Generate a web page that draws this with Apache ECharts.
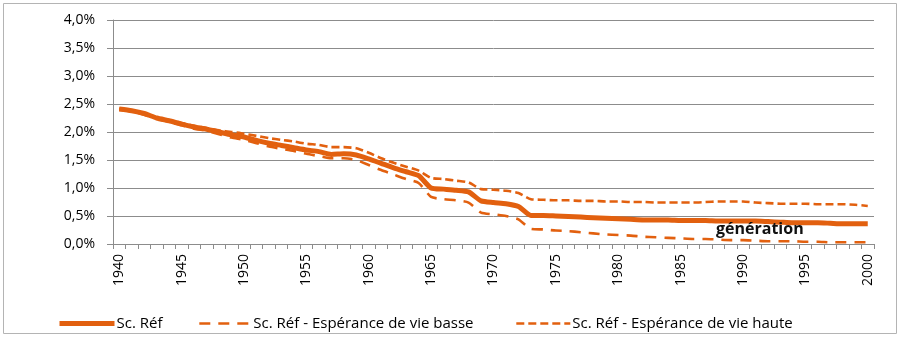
<!DOCTYPE html>
<html>
<head>
<meta charset="utf-8">
<script src="https://cdn.jsdelivr.net/npm/echarts@6/dist/echarts.min.js"></script>
<style>html,body{margin:0;padding:0;background:#fff}#c{width:900px;height:338px}</style>
</head>
<body>
<div id="c"></div>
<script>
var years = [];
for (var y = 1940; y <= 2000; y++) years.push(String(y));

var scRef = [2.41,2.38,2.33,2.25,2.20,2.14,2.09,2.05,2.00,1.95,
             1.91,1.85,1.80,1.76,1.72,1.68,1.65,1.60,1.61,1.59,
             1.52,1.44,1.36,1.29,1.22,1.00,0.98,0.96,0.93,0.77,
             0.74,0.72,0.67,0.51,0.51,0.50,0.49,0.48,0.47,0.46,
             0.45,0.44,0.43,0.43,0.43,0.42,0.42,0.42,0.41,0.41,
             0.41,0.41,0.40,0.39,0.38,0.38,0.38,0.37,0.36,0.36,0.36];

var scBasse = [2.40,2.37,2.31,2.24,2.18,2.12,2.06,2.02,1.96,1.90,
               1.86,1.80,1.74,1.70,1.66,1.61,1.57,1.53,1.53,1.50,
               1.41,1.32,1.24,1.16,1.09,0.84,0.80,0.78,0.74,0.56,
               0.53,0.50,0.44,0.27,0.26,0.24,0.23,0.21,0.19,0.17,
               0.16,0.15,0.13,0.12,0.11,0.10,0.09,0.09,0.08,0.07,
               0.07,0.06,0.05,0.05,0.05,0.04,0.04,0.03,0.03,0.03,0.03];

var scHaute = [2.42,2.39,2.33,2.26,2.21,2.16,2.11,2.07,2.03,2.00,
               1.97,1.93,1.89,1.86,1.83,1.79,1.77,1.73,1.73,1.71,
               1.63,1.53,1.45,1.38,1.31,1.18,1.16,1.13,1.10,0.98,
               0.97,0.95,0.91,0.80,0.79,0.78,0.78,0.77,0.77,0.76,
               0.76,0.75,0.75,0.74,0.74,0.74,0.74,0.75,0.76,0.76,
               0.76,0.74,0.73,0.72,0.72,0.72,0.71,0.71,0.71,0.70,0.68];

var seriesNames = ['Sc. Réf', 'Sc. Réf - Espérance de vie basse', 'Sc. Réf - Espérance de vie haute'];
var yTicks = [0, 0.5, 1, 1.5, 2, 2.5, 3, 3.5, 4];
var annotation = 'génération';

var col = '#E2600F';
var font = '"Open Sans", Lato, sans-serif';
function mkLegend(name, left, w) {
  return {
    left: left, top: 311, itemWidth: w, itemHeight: 14, itemGap: 0,
    itemStyle: {opacity: 0},
    lineStyle: {width: 'inherit'},
    textStyle: {fontSize: 15, color: '#000', fontFamily: font, padding: [0, 0, 0, -3]},
    data: [name]
  };
}
var chart = echarts.init(document.getElementById('c'), null, {renderer: 'canvas'});
chart.setOption({
  animation: false,
  textStyle: {fontFamily: font},
  grid: {left: 113, right: 26, top: 20, bottom: 94, containLabel: false},
  xAxis: {
    type: 'category',
    data: years,
    boundaryGap: true,
    axisLine: {lineStyle: {color: '#8c8c8c', width: 1}},
    axisTick: {show: true, interval: 0, length: 5, lineStyle: {color: '#8c8c8c'}},
    axisLabel: {interval: 4, rotate: 90, margin: 10, fontSize: 14, color: '#000', fontFamily: font},
    splitLine: {show: false}
  },
  yAxis: {
    type: 'value',
    min: yTicks[0], max: yTicks[yTicks.length - 1], interval: 0.5,
    axisLine: {show: true, lineStyle: {color: '#8c8c8c'}},
    axisTick: {show: true, length: 6, lineStyle: {color: '#8c8c8c'}},
    axisLabel: {margin: 18, fontSize: 14, color: '#000', fontFamily: font,
      formatter: function (v) { return v.toFixed(1).replace('.', ',') + '%'; }},
    splitLine: {lineStyle: {color: '#8c8c8c', width: 1}}
  },
  legend: [
    mkLegend(seriesNames[0], 52, 55),
    mkLegend(seriesNames[1], 193, 52),
    mkLegend(seriesNames[2], 510, 54)
  ],
  series: [
    {name: seriesNames[0], type: 'line', data: scRef, symbol: 'none', smooth: 0.2,
     lineStyle: {color: col, width: 5}, itemStyle: {color: col}, z: 3},
    {name: seriesNames[1], type: 'line', data: scBasse, symbol: 'none', smooth: 0.2,
     lineStyle: {color: col, width: 2.6, type: [11, 8]}, itemStyle: {color: col}, z: 2},
    {name: seriesNames[2], type: 'line', data: scHaute, symbol: 'none', smooth: 0.2,
     lineStyle: {color: col, width: 2.6, type: [8, 4]}, itemStyle: {color: col}, z: 2}
  ],
  graphic: [
    {type: 'rect', shape: {x: 3.5, y: 3.5, width: 893, height: 330},
     style: {fill: 'none', stroke: '#b4b4b4', lineWidth: 1}, z: -1},
    {type: 'text', left: 716, top: 221, z: 10,
     style: {text: annotation, font: 'bold 16px ' + font, fill: '#111'}}
  ]
});
</script>
</body>
</html>
